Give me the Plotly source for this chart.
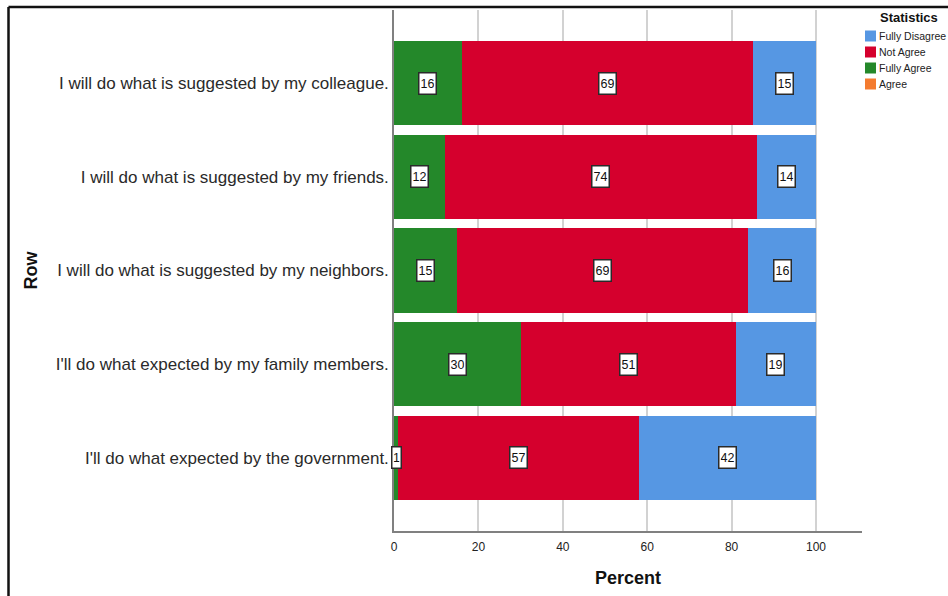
import plotly.graph_objects as go

rows = [
    "I will do what is suggested by my colleague.",
    "I will do what is suggested by my friends.",
    "I will do what is suggested by my neighbors.",
    "I'll do what expected by my family members.",
    "I'll do what expected by the government.",
]
fully_agree = [16, 12, 15, 30, 1]
not_agree = [69, 74, 69, 51, 57]
fully_disagree = [15, 14, 16, 19, 42]
agree = [0, 0, 0, 0, 0]

legend_title = "Statistics"
# stacking order (left to right) and legend order (top to bottom)
series = [
    ("Fully Agree", fully_agree, "#24882a"),
    ("Not Agree", not_agree, "#d5002d"),
    ("Fully Disagree", fully_disagree, "#5697e3"),
    ("Agree", agree, "#f47b2f"),
]
legend_order = ["Fully Disagree", "Not Agree", "Fully Agree", "Agree"]

FONT = "Liberation Sans, Arial, sans-serif"
L, R, T, B = 394, 862, 10, 531
W, H = 948, 596

fig = go.Figure()
for name, vals, color in series:
    fig.add_trace(go.Bar(
        y=rows, x=vals, name=name, orientation="h",
        marker=dict(color=color, line=dict(width=0)),
        hoverinfo="x+name", showlegend=False,
    ))

# boxed value labels at segment centres
cum = [0] * len(rows)
for name, vals, color in series[:3]:
    for i, v in enumerate(vals):
        if v > 0:
            fig.add_annotation(
                x=cum[i] + v / 2 if v >= 3 else cum[i] + 0.7, y=rows[i],
                xref="x", yref="y", text=str(v), showarrow=False,
                font=dict(family=FONT, size=12.5, color="#111"),
                width=14 if v >= 10 else 6, height=18,
                bgcolor="white", bordercolor="#2a2a2a", borderwidth=1.5, borderpad=1,
            )
        cum[i] += v

def px2x(px):
    return (px - L) / (R - L)

def py2y(py):
    return (B - py) / (B - T)

fig.update_layout(
    width=W, height=H,
    margin=dict(l=L, r=W - R, t=T, b=H - B, autoexpand=False),
    barmode="stack", bargap=0.1,
    paper_bgcolor="white", plot_bgcolor="white",
    font=dict(family=FONT, color="#222"),
    showlegend=False,
    xaxis=dict(
        range=[0, 110.9], tickvals=[0, 20, 40, 60, 80, 100],
        showgrid=True, gridcolor="#d2d2d2", gridwidth=1.5,
        showline=True, linecolor="#808080", linewidth=1.5,
        zeroline=False, ticks="", ticklabelstandoff=4,
        tickfont=dict(size=12, color="#222"),
        title=dict(text="<b>Percent</b>", font=dict(size=18, color="#111"), standoff=18),
    ),
    yaxis=dict(
        categoryorder="array", categoryarray=rows[::-1],
        range=[-0.78, 4.78],
        showline=True, linecolor="#808080", linewidth=1.5, showgrid=False,
        ticks="", ticklabelstandoff=0, tickfont=dict(size=17, color="#2a2a2a"),
        title=dict(text="<b>Row</b>", font=dict(size=18, color="#111"), standoff=14),
    ),
)

# hand-drawn legend (compact, like the original)
colors = {n: c for n, _, c in series}
fig.add_annotation(x=px2x(909), y=py2y(18), xref="paper", yref="paper",
                   text="<b>" + legend_title + "</b>", showarrow=False,
                   font=dict(family=FONT, size=13, color="#111"),
                   xanchor="center", yanchor="middle")
for k, name in enumerate(legend_order):
    yc = 36 + 16 * k
    fig.add_shape(type="rect", xref="paper", yref="paper",
                  x0=px2x(865), x1=px2x(876), y0=py2y(yc - 5.5), y1=py2y(yc + 5.5),
                  fillcolor=colors[name], line=dict(width=0), layer="above")
    fig.add_annotation(x=px2x(877), y=py2y(yc), xref="paper", yref="paper",
                       text=name, showarrow=False,
                       font=dict(family=FONT, size=10.5, color="#222"),
                       xanchor="left", yanchor="middle")

# outer frame (left and top edges)
fx = px2x(8.5)
fy = py2y(7)
fig.add_shape(type="line", xref="paper", yref="paper", x0=fx, x1=fx, y0=fy, y1=py2y(600),
              line=dict(color="#111", width=2.5))
fig.add_shape(type="line", xref="paper", yref="paper", x0=fx, x1=px2x(950),
              y0=fy, y1=fy, line=dict(color="#111", width=2.5))

fig.write_html("out.html", config={"displayModeBar": False},
               post_script="document.body.style.margin='0';")
